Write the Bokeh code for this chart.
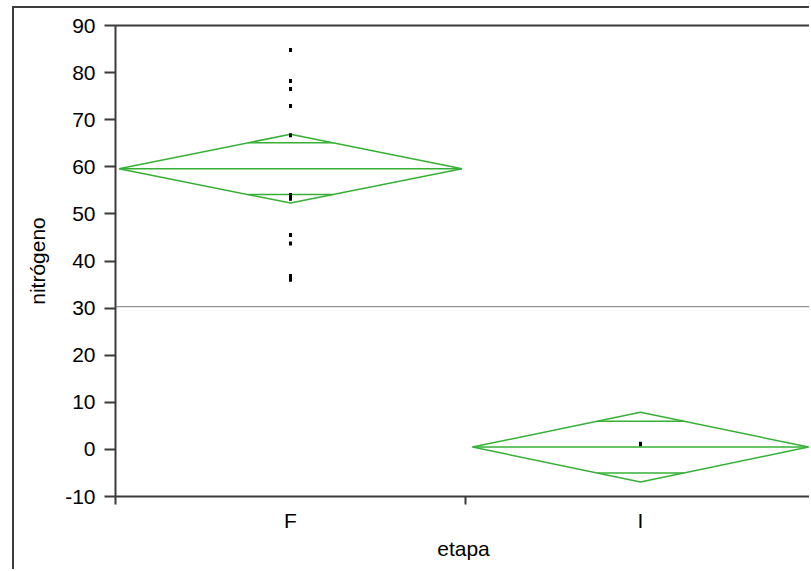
import math
from bokeh.plotting import figure
from bokeh.models import FixedTicker, LinearAxis, Span, Range1d, ColumnDataSource
from bokeh.embed import file_html
from bokeh.resources import INLINE

# ---- data ----
categories = ["F", "I"]
group_means = [59.6, 0.5]
ci_half = [7.3, 7.4]
overlap_half = [5.5, 5.5]
diamond_half_width = [0.49, 0.48]
grand_mean = 30.3
f_points = [84.8, 78.2, 76.5, 72.9, 66.7, 54.0, 53.2, 45.5, 43.7, 36.8, 36.0]
i_points = [1.1, 1.2]
y_ticks = [-10, 0, 10, 20, 30, 40, 50, 60, 70, 80, 90]

FONT = "Liberation Sans"
GREEN = "#35b035"
AXIS = "#3a3a3a"
FS = "21px"

p = figure(width=797, height=563, output_backend="svg", toolbar_location=None,
           x_range=Range1d(0, 696 / 350), y_range=Range1d(-10, 90),
           min_border_left=101, min_border_right=0, min_border_top=17,
           min_border_bottom=75, x_axis_type=None, y_axis_type=None)
p.styles = {"margin-left": "12px", "margin-top": "6px",
            "border-left": "2px solid #3c3c3c", "border-top": "2px solid #3c3c3c"}
p.outline_line_color = None
p.grid.visible = False
p.background_fill_color = "white"
p.border_fill_color = "white"

# y axis
yax = LinearAxis(ticker=FixedTicker(ticks=y_ticks, minor_ticks=[]))
yax.major_label_overrides = {t: str(t) for t in y_ticks}
yax.axis_label = "nitrógeno"
yax.axis_line_color = AXIS
yax.axis_line_width = 2
yax.major_tick_line_color = AXIS
yax.major_tick_line_width = 2
yax.major_tick_out = 11
yax.major_tick_in = 0
yax.major_label_standoff = 9
yax.major_label_text_font = FONT
yax.major_label_text_font_size = FS
yax.major_label_text_color = "black"
yax.axis_label_text_font = FONT
yax.axis_label_text_font_size = FS
yax.axis_label_text_font_style = "normal"
yax.axis_label_text_color = "black"
yax.axis_label_standoff = 13
p.add_layout(yax, "left")

# x axis (categorical positions at i + 0.5, boundaries as minor ticks)
cat_pos = [i + 0.5 for i in range(len(categories))]
xax = LinearAxis(ticker=FixedTicker(ticks=cat_pos,
                                    minor_ticks=list(range(len(categories) + 1))))
xax.major_label_overrides = {pos: c for pos, c in zip(cat_pos, categories)}
xax.axis_label = "etapa"
xax.axis_line_color = AXIS
xax.axis_line_width = 2
xax.major_tick_out = 0
xax.major_tick_in = 0
xax.minor_tick_out = 8
xax.minor_tick_in = 0
xax.minor_tick_line_color = AXIS
xax.minor_tick_line_width = 2
xax.major_label_standoff = 4
xax.major_label_text_font = FONT
xax.major_label_text_font_size = FS
xax.major_label_text_color = "black"
xax.axis_label_text_font = FONT
xax.axis_label_text_font_size = FS
xax.axis_label_text_font_style = "normal"
xax.axis_label_text_color = "black"
xax.axis_label_standoff = 2
p.add_layout(xax, "below")

# top border line
top = LinearAxis(ticker=FixedTicker(ticks=[]), major_label_text_font_size="0px",
                 major_tick_out=0, minor_tick_out=0, axis_line_color=AXIS,
                 axis_line_width=2)
p.add_layout(top, "above")

# grand mean line
p.add_layout(Span(location=grand_mean, dimension="width",
                  line_color="#7a7a7a", line_width=1))

# means diamonds
for c, m, h, ov, hw in zip(cat_pos, group_means, ci_half, overlap_half,
                           diamond_half_width):
    p.line([c - hw, c, c + hw, c, c - hw], [m, m + h, m, m - h, m],
           line_color=GREEN, line_width=1.5)
    p.segment(x0=[c - hw], x1=[c + hw], y0=[m], y1=[m],
              line_color=GREEN, line_width=1.5)
    ohw = hw * (1 - ov / h)
    p.segment(x0=[c - ohw, c - ohw], x1=[c + ohw, c + ohw],
              y0=[m + ov, m - ov], y1=[m + ov, m - ov],
              line_color=GREEN, line_width=1.5)

# points
px = [cat_pos[0]] * len(f_points) + [cat_pos[1]] * len(i_points)
py = f_points + i_points
src = ColumnDataSource(dict(x=px, y=py))
p.rect("x", "y", width=3, height=4, width_units="screen", height_units="screen",
       source=src, fill_color="black", line_color=None)

open("out.html", "w").write(file_html(p, INLINE))
